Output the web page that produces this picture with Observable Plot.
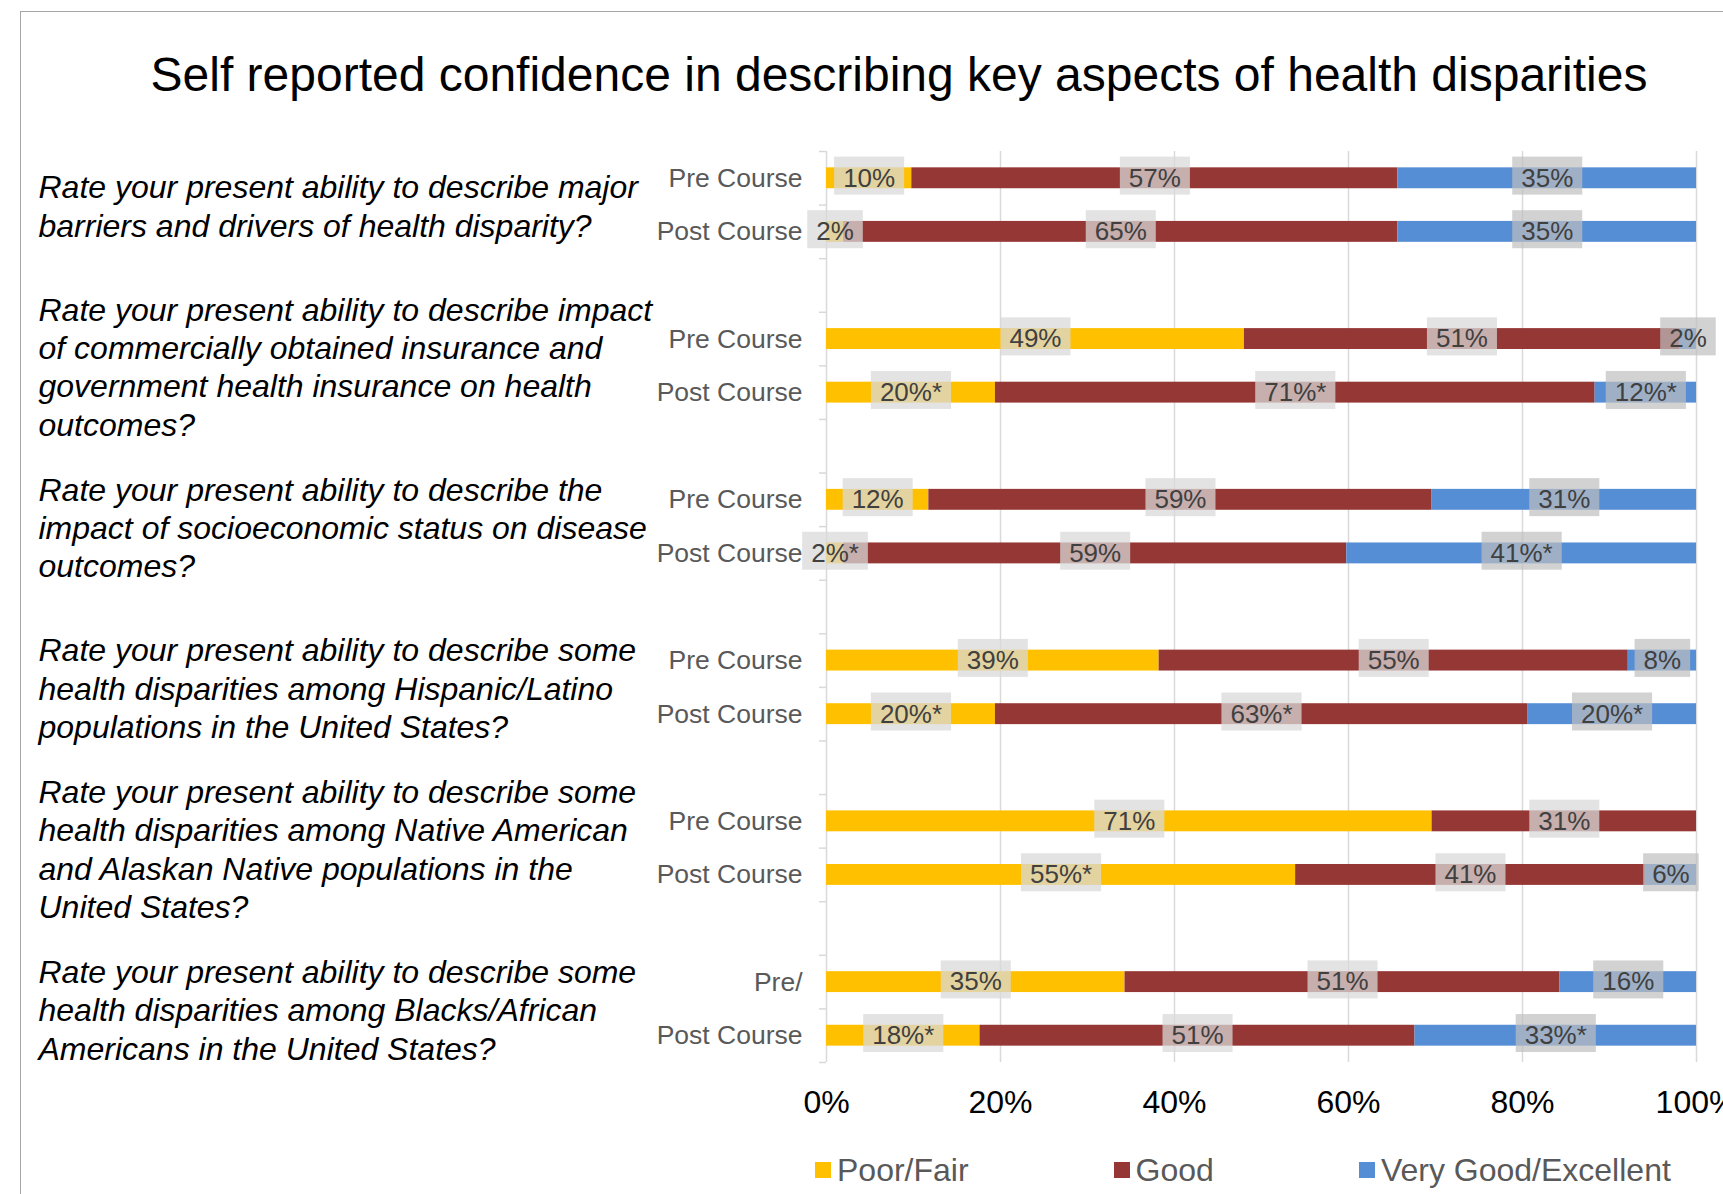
<!DOCTYPE html>
<html><head><meta charset="utf-8">
<script src="https://cdn.jsdelivr.net/npm/d3@7"></script>
<script src="https://cdn.jsdelivr.net/npm/@observablehq/plot@0.6"></script>
<style>
html,body{margin:0;padding:0;background:#fff;overflow:hidden;}
#page{position:relative;width:1723px;height:1194px;font-family:"Liberation Sans",Arial,sans-serif;overflow:hidden;background:#fff;}
#chart{position:absolute;left:0;top:0;}
#frame{position:absolute;left:20px;top:11px;width:2000px;height:2000px;border-left:1.5px solid #a6a6a6;border-top:1.5px solid #a6a6a6;pointer-events:none;}
#title{position:absolute;left:75px;right:0;top:51px;line-height:48px;font-size:48px;text-align:center;color:#000;white-space:nowrap;}
#legend{position:absolute;left:815px;top:1150px;width:1000px;height:40px;display:flex;align-items:center;font-size:32px;color:#595959;white-space:nowrap;}
.item{display:flex;align-items:center;margin-right:145px;flex:none;white-space:nowrap;}
.sw{width:16px;height:16px;margin-right:6px;flex:none;}
</style></head><body>
<div id="page"><div id="chart"></div><div id="frame"></div><div id="title"></div><div id="legend"></div></div>
<script>
const title = "Self reported confidence in describing key aspects of health disparities";
const categories = ["Poor/Fair", "Good", "Very Good/Excellent"];
const colors = ["#FFC000", "#953735", "#558ED5"];
const questions = [
  "Rate your present ability to describe major\nbarriers and drivers of health disparity?",
  "Rate your present ability to describe impact\nof commercially obtained insurance and\ngovernment health insurance on health\noutcomes?",
  "Rate your present ability to describe the\nimpact of socioeconomic status on disease\noutcomes?",
  "Rate your present ability to describe some\nhealth disparities among Hispanic/Latino\npopulations in the United States?",
  "Rate your present ability to describe some\nhealth disparities among Native American\nand Alaskan Native populations in the\nUnited States?",
  "Rate your present ability to describe some\nhealth disparities among Blacks/African\nAmericans in the United States?"
];
const rowLabels = ["Pre Course","Post Course","Pre Course","Post Course","Pre Course","Post Course",
                   "Pre Course","Post Course","Pre Course","Post Course","Pre/","Post Course"];
const poorFair          = [10, 2, 49, 20, 12, 2, 39, 20, 71, 55, 35, 18];
const good              = [57, 65, 51, 71, 59, 59, 55, 63, 31, 41, 51, 51];
const veryGoodExcellent = [35, 35, 2, 12, 31, 41, 8, 20, 0, 6, 16, 33];
const poorFairStar          = [0,0,0,1,0,1,0,1,0,1,0,1];
const goodStar              = [0,0,0,1,0,0,0,1,0,0,0,0];
const veryGoodExcellentStar = [0,0,0,1,0,1,0,1,0,0,0,1];
const xTicks = [0, 0.2, 0.4, 0.6, 0.8, 1];

// build table
const seriesValues = [poorFair, good, veryGoodExcellent];
const seriesStars = [poorFairStar, goodStar, veryGoodExcellentStar];
const domain = [];
const labelOf = {};
for (let q = 0; q < questions.length; q++) {
  for (let k = 0; k < 2; k++) { const r = 2*q + k; domain.push("r" + r); labelOf["r" + r] = rowLabels[r]; }
  if (q < questions.length - 1) domain.push("g" + q);
}
const rows = [];
for (let r = 0; r < rowLabels.length; r++) {
  categories.forEach((c, j) => {
    const v = seriesValues[j][r];
    rows.push({key: "r" + r, category: c, value: v, label: v + "%" + (seriesStars[j][r] ? "*" : "")});
  });
}
const labelRows = rows.filter(d => d.value > 0);
const qRows = questions.map((t, q) => ({key: "r" + (2*q), text: t}));

const W = 1723, H = 1140, mT = 151, mB = 78, mL = 826, mR = 27;
const step = (H - mT - mB) / domain.length;

const svg = Plot.plot({
  width: W, height: H,
  marginTop: mT, marginBottom: mB, marginLeft: mL, marginRight: mR,
  style: {fontFamily: "'Liberation Sans', Arial, sans-serif", background: "transparent", overflow: "visible"},
  x: {domain: [0, 1]},
  y: {type: "band", domain, paddingInner: 0.61, paddingOuter: 0.305, round: false},
  color: {domain: categories, range: colors},
  marks: [
    Plot.ruleX(xTicks.slice(1), {stroke: "#d9d9d9", strokeWidth: 1.5}),
    Plot.ruleX([0], {stroke: "#d9d9d9", strokeWidth: 1.5}),
    Plot.ruleY(domain, {y: d => d, x1: 0, x2: 0, insetLeft: -7, dy: -step/2, stroke: "#d9d9d9", strokeWidth: 1.5}),
    Plot.ruleY(domain.slice(-1), {y: d => d, x1: 0, x2: 0, insetLeft: -7, dy: step/2, stroke: "#d9d9d9", strokeWidth: 1.5}),
    Plot.barX(rows, Plot.stackX({x: "value", y: "key", fill: "category", offset: "normalize"})),
    Plot.axisX({ticks: xTicks, tickFormat: d3.format(".0%"), tickSize: 0, tickPadding: 28, fontSize: 32, color: "#000", label: null}),
    Plot.axisY({tickSize: 0, tickPadding: 24, fontSize: 26.5, color: "#595959", tickFormat: k => labelOf[k] ?? "", label: null}),
    Plot.text(qRows, {y: "key", text: "text", frameAnchor: "left", textAnchor: "start", lineAnchor: "middle",
      dx: 38 - mL, dy: step/2, fontSize: 32, fontStyle: "italic", lineHeight: 1.2, fill: "#000"}),
    Plot.text(labelRows, Plot.stackX({x: "value", y: "key", z: "category", text: "label", offset: "normalize",
      fontSize: 26, fill: "#404040"}))
  ]
});
document.getElementById("chart").append(svg);

// label background boxes
const textGroups = [...svg.querySelectorAll("g")].filter(g => g.getAttribute("aria-label") === "text");
const lg = textGroups[textGroups.length - 1];
if (lg) {
  [...lg.querySelectorAll("text")].forEach((t, i) => {
    const b = t.getBBox();
    const r = document.createElementNS("http://www.w3.org/2000/svg", "rect");
    r.setAttribute("x", b.x - 9);
    r.setAttribute("width", b.width + 18);
    r.setAttribute("y", b.y + b.height/2 - 21);
    r.setAttribute("height", 38);
    const cat = labelRows[i] ? labelRows[i].category : categories[0];
    r.setAttribute("fill", cat === categories[2] ? "rgba(191,191,191,0.7)" : "rgba(217,217,217,0.74)");
    const tr = t.getAttribute("transform");
    if (tr) r.setAttribute("transform", tr);
    lg.insertBefore(r, t);
  });
}

document.getElementById("title").textContent = title;
const legend = document.getElementById("legend");
categories.forEach((c, i) => {
  const it = document.createElement("div"); it.className = "item";
  const sw = document.createElement("div"); sw.className = "sw"; sw.style.background = colors[i];
  const tx = document.createElement("span"); tx.textContent = c;
  it.append(sw, tx); legend.append(it);
});
</script>
</body></html>
